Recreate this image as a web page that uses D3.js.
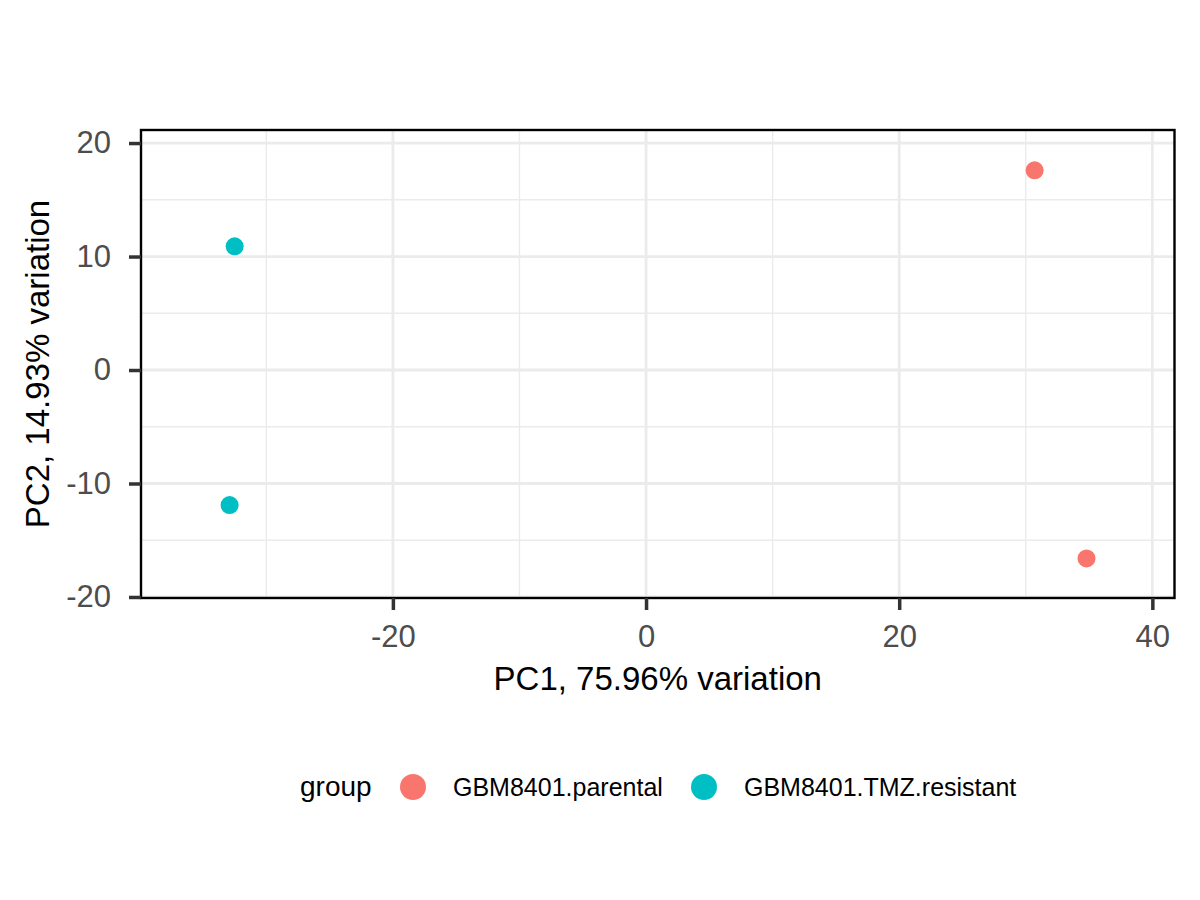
<!DOCTYPE html>
<html><head><meta charset="utf-8">
<script src="https://cdn.jsdelivr.net/npm/d3@7"></script>
<style>body{margin:0;background:#fff}svg{display:block}text{font-family:"Liberation Sans",Arial,sans-serif}</style>
</head><body>
<script>
const groups = ["GBM8401.parental", "GBM8401.TMZ.resistant"];
const colors = ["#F8766D", "#00BFC4"];
const pc1 = [30.7, 34.8, -32.5, -32.9];
const pc2 = [17.6, -16.6, 10.9, -11.9];
const pointGroup = ["GBM8401.parental", "GBM8401.parental", "GBM8401.TMZ.resistant", "GBM8401.TMZ.resistant"];
const xTicks = [-20, 0, 20, 40];
const yTicks = [-20, -10, 0, 10, 20];
const xMinor = [-30, -10, 10, 30];
const yMinor = [-15, -5, 5, 15];
const xTitle = "PC1, 75.96% variation";
const yTitle = "PC2, 14.93% variation";
const legendTitle = "group";

const W = 1200, H = 900;
const L = 141, R = 1174.5, T = 130, B = 598;
const svg = d3.select("body").append("svg").attr("width", W).attr("height", H);
const x = d3.scaleLinear().domain([-39.9, 41.75]).range([L, R]);
const y = d3.scaleLinear().domain([-20.09, 21.15]).range([B, T]);
const color = d3.scaleOrdinal().domain(groups).range(colors);

const g = svg.append("g");
g.selectAll(".xmin").data(xMinor).join("line").attr("x1", d => x(d)).attr("x2", d => x(d)).attr("y1", T).attr("y2", B).attr("stroke", "#EBEBEB").attr("stroke-width", 1.4);
g.selectAll(".ymin").data(yMinor).join("line").attr("y1", d => y(d)).attr("y2", d => y(d)).attr("x1", L).attr("x2", R).attr("stroke", "#EBEBEB").attr("stroke-width", 1.4);
g.selectAll(".xmaj").data(xTicks).join("line").attr("x1", d => x(d)).attr("x2", d => x(d)).attr("y1", T).attr("y2", B).attr("stroke", "#EBEBEB").attr("stroke-width", 2.8);
g.selectAll(".ymaj").data(yTicks).join("line").attr("y1", d => y(d)).attr("y2", d => y(d)).attr("x1", L).attr("x2", R).attr("stroke", "#EBEBEB").attr("stroke-width", 2.8);

const pts = pc1.map((v, i) => ({x: v, y: pc2[i], g: pointGroup[i]}));
svg.selectAll(".pt").data(pts).join("circle").attr("cx", d => x(d.x)).attr("cy", d => y(d.y)).attr("r", 9).attr("fill", d => color(d.g));

svg.append("rect").attr("x", L).attr("y", T).attr("width", R - L).attr("height", B - T).attr("fill", "none").attr("stroke", "#000").attr("stroke-width", 2.4);

const fmt = d => String(d);
const xAxis = svg.append("g").attr("transform", `translate(0,${B})`).call(d3.axisBottom(x).tickValues(xTicks).tickSize(12).tickPadding(15).tickFormat(fmt));
const yAxis = svg.append("g").attr("transform", `translate(${L},0)`).call(d3.axisLeft(y).tickValues(yTicks).tickSize(12).tickPadding(18).tickFormat(fmt));
[xAxis, yAxis].forEach(a => {
  a.select(".domain").remove();
  a.selectAll(".tick line").attr("stroke", "#333").attr("stroke-width", 3.5);
  a.selectAll(".tick text").attr("fill", "#4D4D4D").attr("font-size", 31).attr("font-family", "Liberation Sans, Arial, sans-serif");
});

svg.append("text").attr("x", (L + R) / 2).attr("y", 690).attr("text-anchor", "middle").attr("font-size", 33).attr("fill", "#000").text(xTitle);
svg.append("text").attr("transform", `translate(49,${(T + B) / 2}) rotate(-90)`).attr("text-anchor", "middle").attr("font-size", 33).attr("fill", "#000").text(yTitle);

const lg = svg.append("g");
lg.append("text").attr("x", 300).attr("y", 796).attr("font-size", 28).attr("fill", "#000").text(legendTitle);
const lx = [413, 704];
groups.forEach((gr, i) => {
  lg.append("circle").attr("cx", lx[i]).attr("cy", 787).attr("r", 13).attr("fill", color(gr));
  lg.append("text").attr("x", lx[i] + 40).attr("y", 796).attr("font-size", 25).attr("fill", "#000").text(gr);
});
</script>
</body></html>
